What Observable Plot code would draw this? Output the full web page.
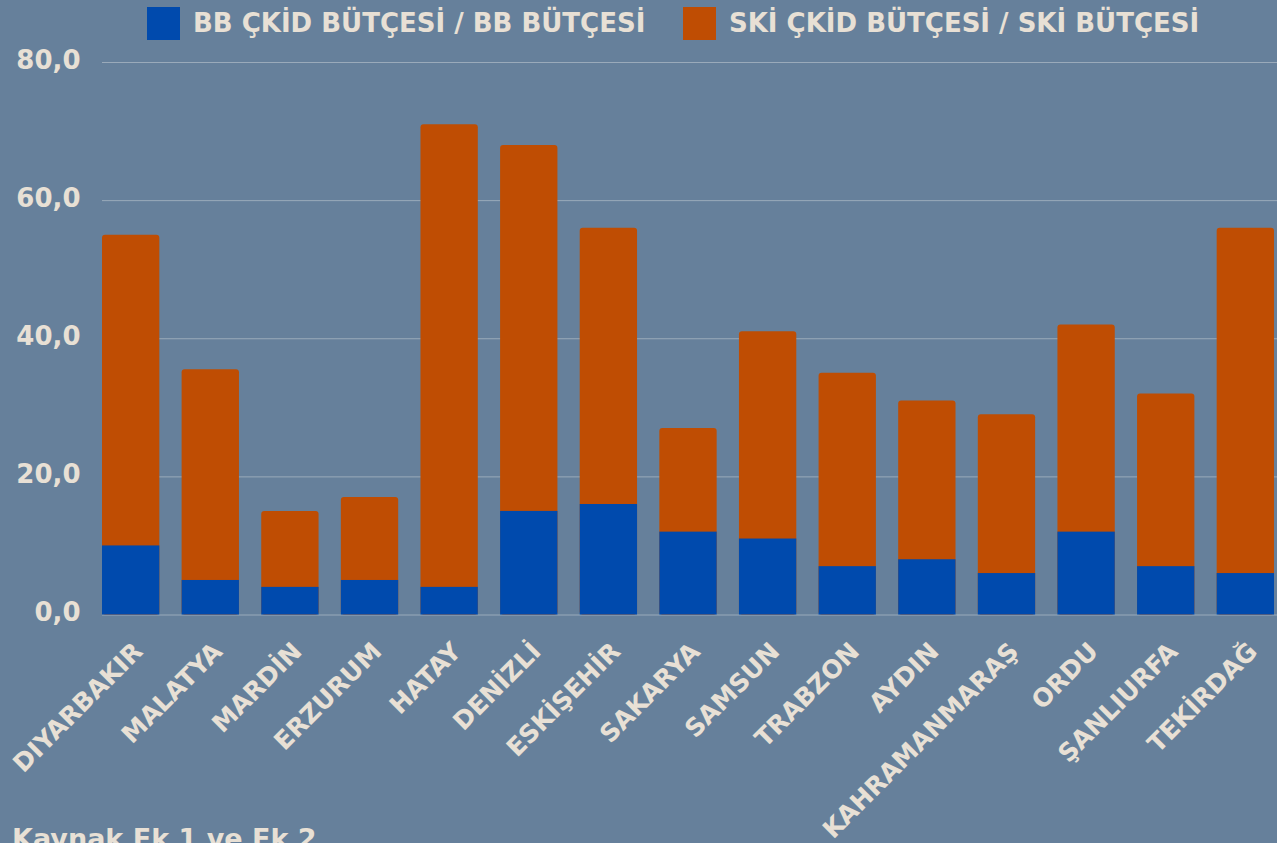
<!DOCTYPE html>
<html><head><meta charset="utf-8">
<script src="https://cdn.jsdelivr.net/npm/d3@7"></script>
<script src="https://cdn.jsdelivr.net/npm/@observablehq/plot@0.6"></script>
<style>
html,body{margin:0;padding:0;background:#66809b;}
body{width:1277px;height:843px;overflow:hidden;position:relative;font-family:"DejaVu Sans",sans-serif;}
#legend{height:48px;position:relative;}
.sw{position:absolute;top:7px;width:33px;height:33px;}
.lt{position:absolute;top:7px;line-height:33px;color:#e8e0d5;font-weight:bold;font-size:26px;font-family:"DejaVu Sans",sans-serif;white-space:nowrap;}
#chart svg{overflow:visible;display:block;}
#caption{position:absolute;left:12px;top:825px;line-height:27px;color:#e8e0d5;font-family:"DejaVu Sans",sans-serif;font-weight:700;font-size:27px;white-space:nowrap;}
</style>
</head><body>
<div id="legend"></div>
<div id="chart"></div>
<div id="caption">Kaynak Ek 1 ve Ek 2</div>
<script>
const cities = ["DIYARBAKIR","MALATYA","MARDİN","ERZURUM","HATAY","DENİZLİ","ESKİŞEHİR","SAKARYA","SAMSUN","TRABZON","AYDIN","KAHRAMANMARAŞ","ORDU","ŞANLIURFA","TEKİRDAĞ"];
const bbShare = [10,5,4,5,4,15,16,12,11,7,8,6,12,7,6];
const skiShare = [45,30.5,11,12,67,53,40,15,30,28,23,23,30,25,50];
const seriesNames = ["BB ÇKİD BÜTÇESİ / BB BÜTÇESİ","SKİ ÇKİD BÜTÇESİ / SKİ BÜTÇESİ"];
const seriesColors = ["#004aad","#bf4d03"];
const yTicks = [0,20,40,60,80];

const textColor = "#e8e0d5";
const legend = document.getElementById("legend");
const legendPos = [[147,193],[683,729]];
seriesNames.forEach((n,i)=>{
  const s = document.createElement("div"); s.className="sw"; s.style.left=legendPos[i][0]+"px"; s.style.background=seriesColors[i]; legend.appendChild(s);
  const t = document.createElement("div"); t.className="lt"; t.style.left=legendPos[i][1]+"px"; t.textContent=n; legend.appendChild(t);
});

const data = cities.map((c,i)=>({city:c, bb:bbShare[i], ski:skiShare[i], total:bbShare[i]+skiShare[i]}));
const fmt = d => d3.format(".1f")(d).replace(".", ",");

const chart = Plot.plot({
  width:1277, height:770,
  marginTop:14, marginLeft:102, marginRight:3, marginBottom:203.5,
  style:{background:"transparent", color:textColor, fontFamily:"DejaVu Sans", overflow:"visible"},
  x:{domain:cities, paddingInner:0.28, paddingOuter:0, round:false, label:null},
  y:{domain:[0,80], label:null},
  marks:[
    Plot.gridY(yTicks, {stroke:"#a3b1c0", strokeOpacity:0.85, strokeWidth:1, insetRight:-3}),
    Plot.barY(data, {x:"city", y1:0, y2:"total", fill:seriesColors[1], rx:3}),
    Plot.barY(data, {x:"city", y1:0, y2:"bb", fill:seriesColors[0]}),
    Plot.axisY(yTicks, {tickSize:0, tickPadding:22, dy:-2, tickFormat:fmt, fontSize:26, fontWeight:"bold", fill:textColor, label:null}),
    Plot.axisX({tickSize:0, tickPadding:0, tickRotate:-45, textAnchor:"end", lineAnchor:"bottom", dx:13, dy:38, fontSize:25, fontWeight:"bold", fill:textColor, label:null})
  ]
});
document.getElementById("chart").appendChild(chart);
</script>
</body></html>
